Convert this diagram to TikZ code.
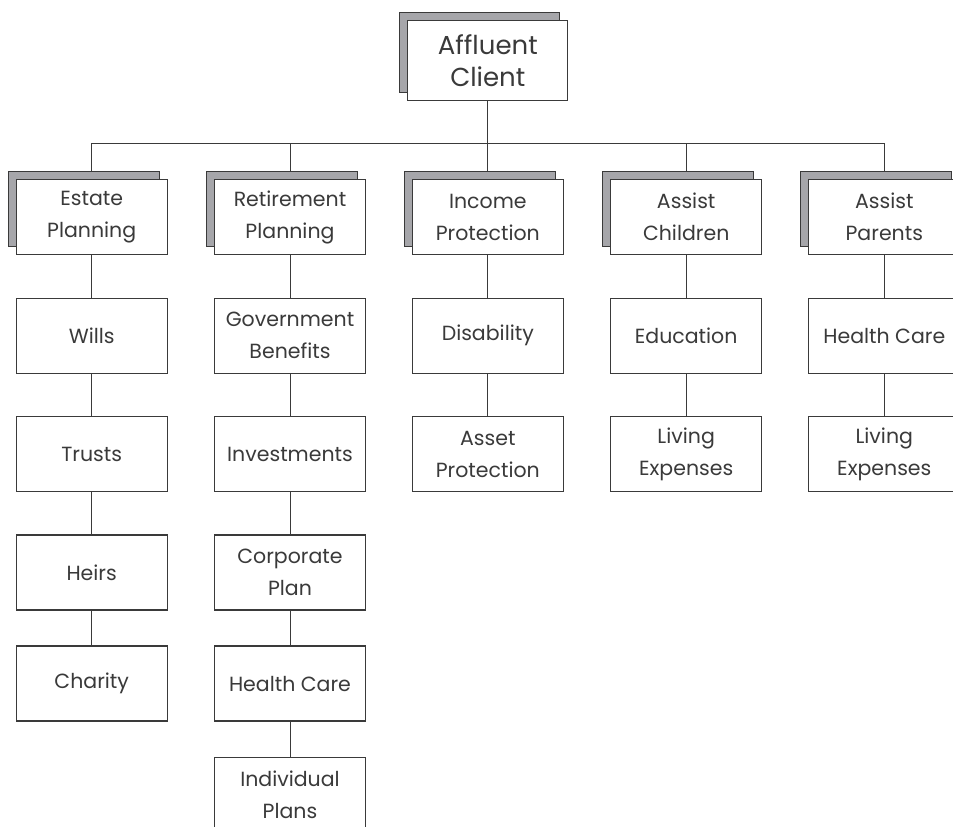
\documentclass[tikz,border=0pt]{standalone}
\usepackage{fontspec}
\setmainfont{Poppins}
\definecolor{inkgray}{HTML}{3A3A3A}
\definecolor{shadegray}{HTML}{A6A6AA}
\tikzset{
  box/.style={draw=inkgray, line width=1.3pt, fill=white, rectangle, inner sep=0pt,
    minimum width=151pt, minimum height=75pt, align=center, text=inkgray,
    font=\fontsize{20.5}{32}\selectfont},
  backbox/.style={draw=inkgray, line width=1.3pt, fill=shadegray, rectangle, inner sep=0pt,
    minimum width=151pt, minimum height=75pt},
  topbox/.style={box, minimum width=160pt, minimum height=80pt, font=\fontsize{26}{32}\selectfont},
  topback/.style={backbox, minimum width=160pt, minimum height=80pt},
  link/.style={draw=inkgray, line width=1pt}
}
\begin{document}
\begin{tikzpicture}[x=1pt,y=-1pt]
\useasboundingbox (0,0) rectangle (953,827);
\clip (0,0) rectangle (953,827);

% root
\node[topback] (roots) at (479.8,52.7) {};
\node[topbox] (root) at (487.8,60.7) {Affluent\\Client};

% second level, each with a shadow card
\foreach \n/\x/\t in {h1/91.7/{Estate\\Planning}, h2/290/{Retirement\\Planning},
                      h3/487.8/{Income\\Protection}, h4/686.2/{Assist\\Children},
                      h5/884.3/{Assist\\Parents}}{
  \node[backbox] (\n s) at (\x-8,209.2) {};
  \node[box] (\n) at (\x,217.2) {\t};
}

% bus line
\coordinate (bus) at (487.8,143);
\draw[link] (root.south) -- (bus);
\draw[link] (h1 |- bus) -- (h5 |- bus);
\foreach \n in {h1,h2,h3,h4,h5}{
  \draw[link] (\n |- bus) -- (\n |- \n s.north);
}

% Estate Planning column
\node[box] (e1) at (91.7,335.8) {Wills};
\node[box] (e2) at (91.7,454.2) {Trusts};
\node[box] (e3) at (91.7,572.5) {Heirs};
\node[box] (e4) at (91.7,683.5) {Charity};

% Retirement Planning column
\node[box] (r1) at (290,335.8) {Government\\Benefits};
\node[box] (r2) at (290,454.2) {Investments};
\node[box] (r3) at (290,572.5) {Corporate\\Plan};
\node[box] (r4) at (290,683.5) {Health Care};
\node[box] (r5) at (290,794.8) {Individual\\Plans};

% Income Protection column
\node[box] (i1) at (487.8,335.8) {Disability};
\node[box] (i2) at (487.8,454.2) {Asset\\Protection};

% Assist Children column
\node[box] (c1) at (686.2,335.8) {Education};
\node[box] (c2) at (686.2,454.2) {Living\\Expenses};

% Assist Parents column
\node[box] (p1) at (884.3,335.8) {Health Care};
\node[box] (p2) at (884.3,454.2) {Living\\Expenses};

% vertical links
\draw[link] (h1) -- (e1) (e1) -- (e2) (e2) -- (e3) (e3) -- (e4);
\draw[link] (h2) -- (r1) (r1) -- (r2) (r2) -- (r3) (r3) -- (r4) (r4) -- (r5);
\draw[link] (h3) -- (i1) (i1) -- (i2);
\draw[link] (h4) -- (c1) (c1) -- (c2);
\draw[link] (h5) -- (p1) (p1) -- (p2);
\end{tikzpicture}
\end{document}
